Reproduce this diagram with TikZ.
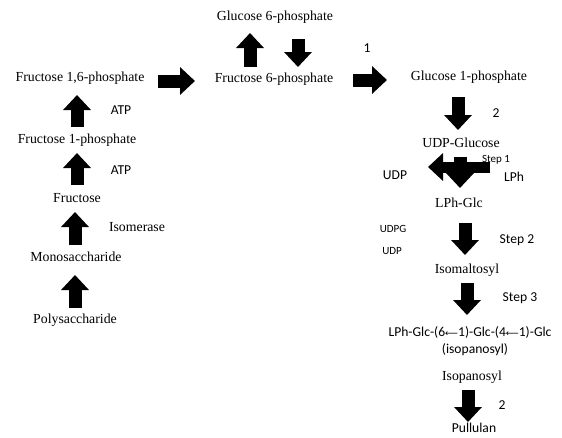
\documentclass[tikz,border=0pt]{standalone}
\usepackage{fontspec}
\setmainfont{Liberation Serif}
\newfontfamily\sansf{Carlito}
\newfontfamily\djv{DejaVu Sans}
\usetikzlibrary{arrows.meta}
\newcommand{\larr}{{\djv\fontsize{9}{10}\selectfont ⟵}}
\begin{document}
\begin{tikzpicture}[x=1pt,y=-1pt,
 lbl/.style={inner sep=0pt, font=\fontsize{13.8}{15}\selectfont},
 slbl/.style={inner sep=0pt, font=\sansf\fontsize{13.6}{15}\selectfont},
 small/.style={inner sep=0pt, font=\sansf\fontsize{11}{13}\selectfont},
 barrow/.style={line width=13pt, -{Triangle[length=15pt,width=27pt]}},
 ]
\path[use as bounding box] (0,0) rectangle (562,437);
% left column
\node[lbl] (g6p) at (275,17) {Glucose 6-phosphate};
\node[lbl] (f6p) at (274,79) {Fructose 6-phosphate};
\node[lbl] (f16p) at (80,78) {Fructose 1,6-phosphate};
\node[lbl] (f1p) at (77,140) {Fructose 1-phosphate};
\node[lbl] (fru) at (77,198) {Fructose};
\node[lbl] (mono) at (76,257) {Monosaccharide};
\node[lbl] (poly) at (75,320) {Polysaccharide};
\node[slbl] (atpa) at (121,110) {ATP};
\node[slbl] (atpb) at (121,170) {ATP};
\node[lbl] (iso) at (137,227) {Isomerase};
% right column
\node[slbl] (one) at (367,48) {1};
\node[lbl] (g1p) at (469,77) {Glucose 1-phosphate};
\node[slbl] (two) at (496,113) {2};
\node[lbl] (udpglc) at (461,143) {UDP-Glucose};
\node[small] (step1) at (496,160) {Step 1};
\node[slbl] (udp) at (395,175) {UDP};
\node[slbl] (lph) at (514,177) {LPh};
\node[lbl] (lphglc) at (459,203) {LPh-Glc};
\node[small] (udpg) at (393,229) {UDPG};
\node[small] (udp2) at (392,251) {UDP};
\node[slbl] (step2) at (517,240) {Step 2};
\node[lbl] (isomal) at (467,270) {Isomaltosyl};
\node[slbl] (step3) at (520,298) {Step 3};
\node[slbl] (chain) at (470,332) {LPh-Glc-(6\larr1)-Glc-(4\larr1)-Glc};
\node[slbl] (isop) at (475,350) {(isopanosyl)};
\node[lbl] (isopan) at (472,377) {Isopanosyl};
\node[slbl] (twob) at (502,405) {2};
\node[slbl] (pull) at (474,428) {Pullulan};
% arrow end points
\coordinate (gu1) at (250,67); \coordinate (gu2) at (250,33);
\coordinate (gd1) at (298,39); \coordinate (gd2) at (298,67);
\coordinate (fr1) at (353,80); \coordinate (fr2) at (387,80);
\coordinate (fl1) at (158,81); \coordinate (fl2) at (195,81);
\coordinate (a11) at (77,127); \coordinate (a12) at (77,95);
\coordinate (a21) at (77,185); \coordinate (a22) at (77,153);
\coordinate (a31) at (75,245); \coordinate (a32) at (75,212);
\coordinate (a41) at (75,308); \coordinate (a42) at (75,275);
\coordinate (b11) at (458,97); \coordinate (b12) at (458,130);
\coordinate (c11) at (460,157); \coordinate (c12) at (460,188);
\coordinate (c21) at (490,167); \coordinate (c22) at (428,167);
\coordinate (b21) at (465,223); \coordinate (b22) at (465,255);
\coordinate (b31) at (467,283); \coordinate (b32) at (467,315);
\coordinate (b41) at (468,390); \coordinate (b42) at (468,422);
\draw[barrow] (gu1) -- (gu2);
\draw[barrow] (gd1) -- (gd2);
\draw[barrow] (fr1) -- (fr2);
\draw[barrow] (fl1) -- (fl2);
\draw[barrow] (a11) -- (a12);
\draw[barrow] (a21) -- (a22);
\draw[barrow] (a31) -- (a32);
\draw[barrow] (a41) -- (a42);
\draw[barrow] (b11) -- (b12);
\draw[barrow] (c11) -- (c12);
\draw[barrow, line width=11pt] (c21) -- (c22);
\draw[barrow] (b21) -- (b22);
\draw[barrow] (b31) -- (b32);
\draw[barrow] (b41) -- (b42);
\end{tikzpicture}
\end{document}
